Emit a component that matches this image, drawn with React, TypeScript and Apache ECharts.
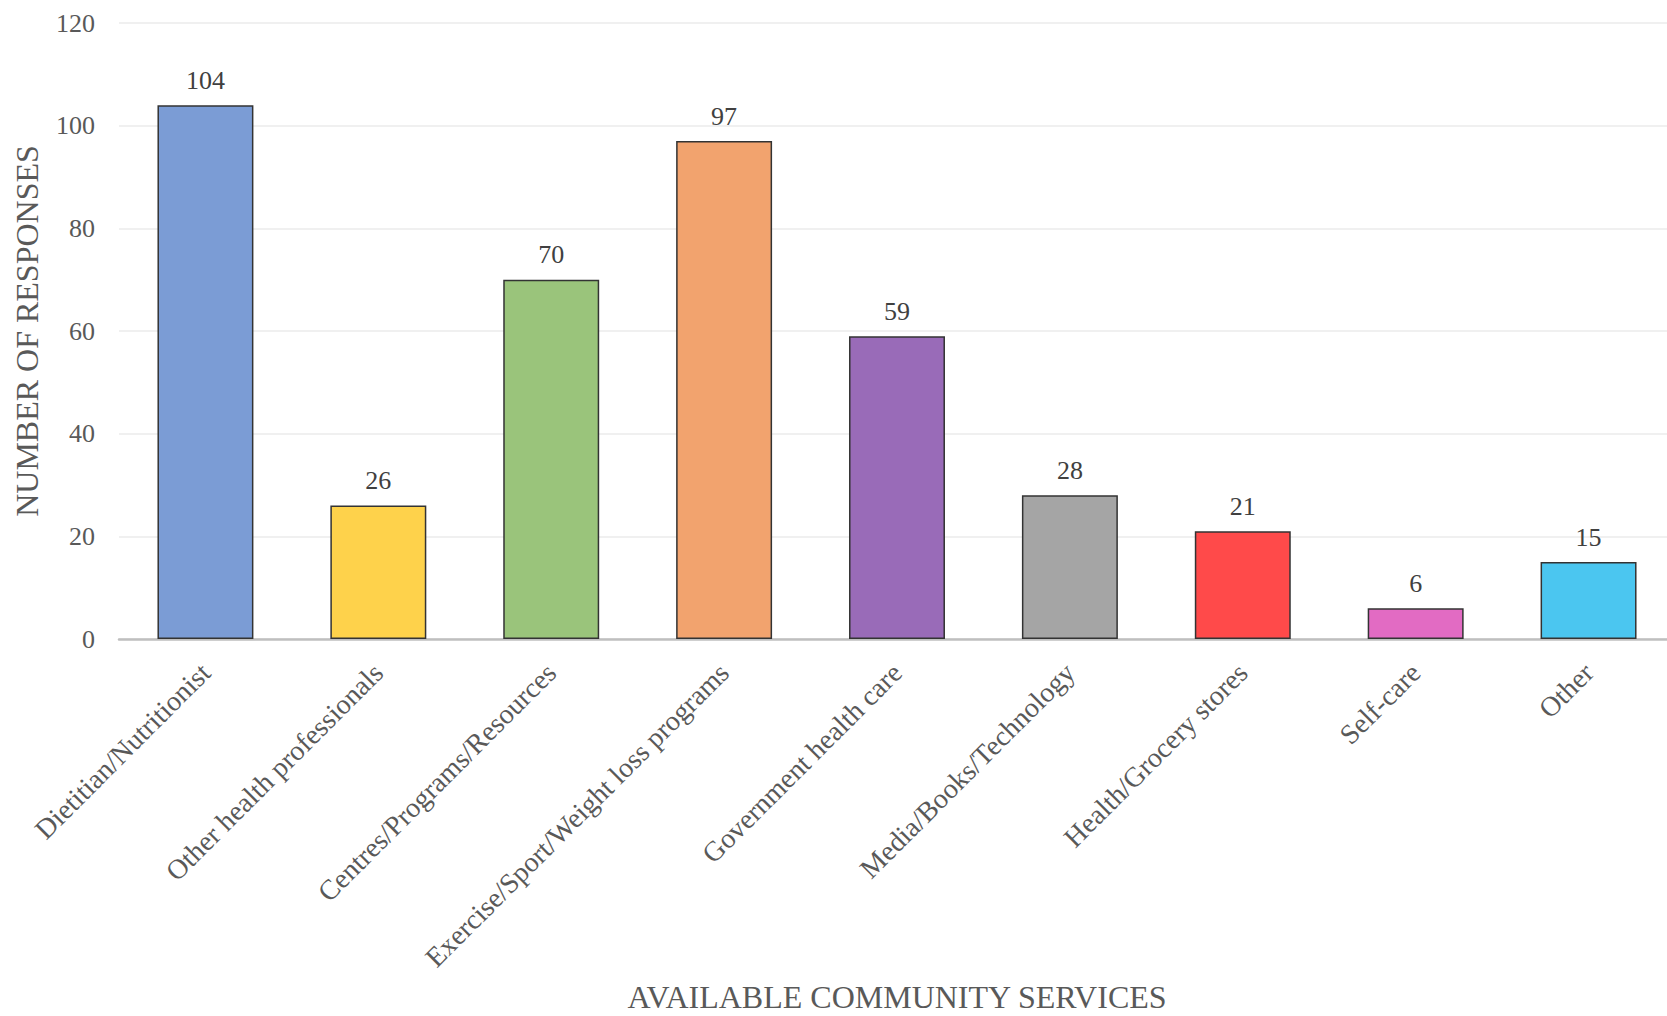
import React, { useEffect, useRef } from "react";
import * as echarts from "echarts";

const categories = [
  "Dietitian/Nutritionist",
  "Other health professionals",
  "Centres/Programs/Resources",
  "Exercise/Sport/Weight loss programs",
  "Government health care",
  "Media/Books/Technology",
  "Health/Grocery stores",
  "Self-care",
  "Other",
];
const responses = [104, 26, 70, 97, 59, 28, 21, 6, 15];
const barColors = [
  "#7B9CD5",
  "#FED24B",
  "#9AC47B",
  "#F2A36E",
  "#996BB8",
  "#A5A5A5",
  "#FF4A4A",
  "#E26BC3",
  "#4BC6F0",
];
const yTicks = { min: 0, max: 120, interval: 20 };
const xAxisTitle = "AVAILABLE COMMUNITY SERVICES";
const yAxisTitle = "NUMBER OF RESPONSES";

const FONT = "'Liberation Serif', 'Times New Roman', serif";

export default function App() {
  const ref = useRef<HTMLDivElement>(null);
  useEffect(() => {
    if (!ref.current) return;
    const chart = echarts.init(ref.current, undefined, { renderer: "svg" });
    chart.setOption({
      animation: false,
      backgroundColor: "#ffffff",
      textStyle: { fontFamily: FONT },
      grid: {
        left: 119,
        top: 23,
        width: 1556,
        bottom: 377,
        containLabel: false,
        outerBoundsMode: "none",
      },
      xAxis: {
        type: "category",
        data: categories,
        name: xAxisTitle,
        nameLocation: "middle",
        nameGap: 343,
        nameTextStyle: {
          fontFamily: FONT,
          fontSize: 32,
          lineHeight: 30,
          color: "#595959",
        },
        axisLine: { lineStyle: { color: "#BFBFBF", width: 2.5 } },
        axisTick: { show: false },
        axisLabel: {
          rotate: 45,
          interval: 0,
          margin: 29,
          fontFamily: FONT,
          fontSize: 28,
          color: "#595959",
        },
      },
      yAxis: {
        type: "value",
        min: yTicks.min,
        max: yTicks.max,
        interval: yTicks.interval,
        name: yAxisTitle,
        nameLocation: "middle",
        nameRotate: 90,
        nameGap: 76,
        nameTextStyle: { fontFamily: FONT, fontSize: 32, color: "#595959" },
        axisLine: { show: false },
        axisTick: { show: false },
        splitLine: { lineStyle: { color: "#EBEBEB", width: 1.5 } },
        axisLabel: {
          margin: 24,
          fontFamily: FONT,
          fontSize: 26,
          color: "#595959",
        },
      },
      series: [
        {
          type: "bar",
          barWidth: "55.5%",
          data: responses.map((v, i) => ({
            value: v,
            itemStyle: { color: barColors[i] },
          })),
          itemStyle: { borderColor: "#333333", borderWidth: 1.5 },
          label: {
            show: true,
            position: "top",
            distance: 12,
            fontFamily: FONT,
            fontSize: 26,
            color: "#404040",
          },
        },
      ],
    });
    return () => chart.dispose();
  }, []);
  return (
    <div
      ref={ref}
      style={{ position: "absolute", left: 0, top: 0, width: 1667, height: 1016 }}
    />
  );
}
